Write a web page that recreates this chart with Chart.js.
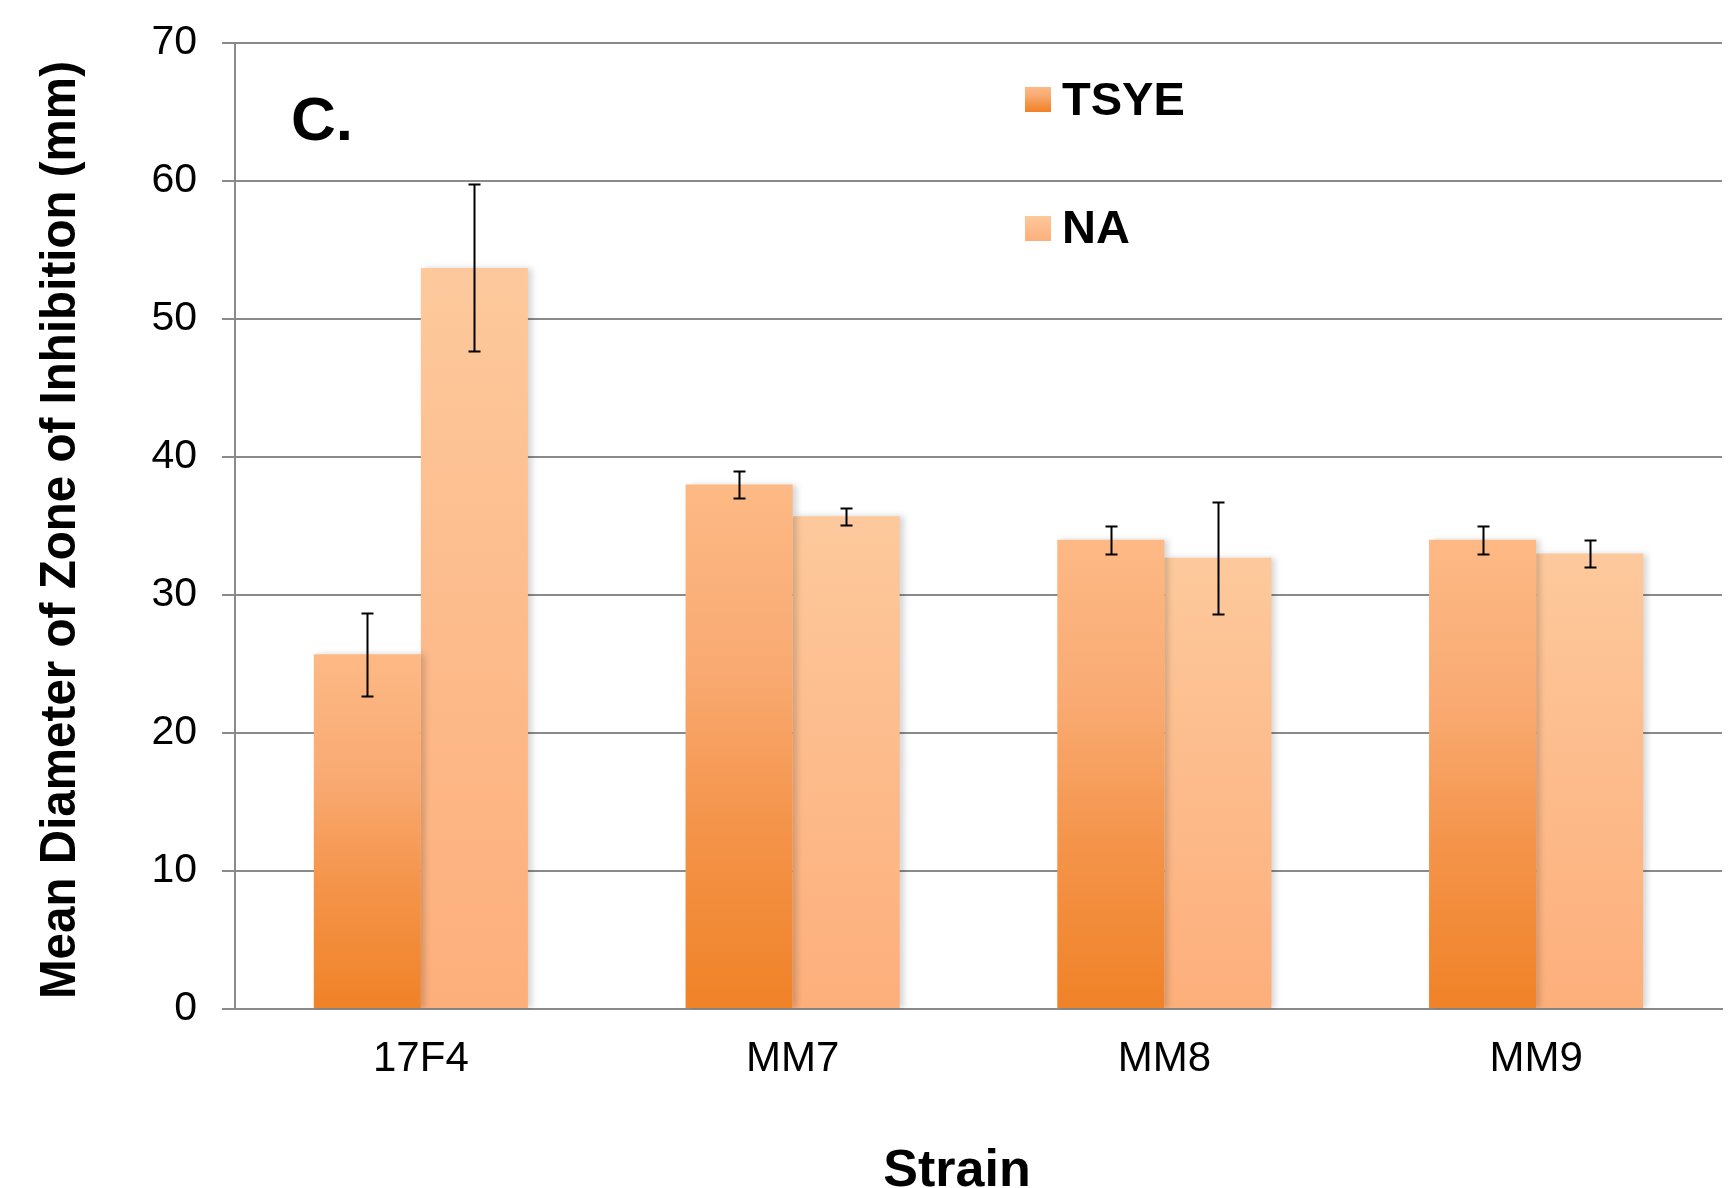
<!DOCTYPE html>
<html>
<head>
<meta charset="utf-8">
<script src="https://cdn.jsdelivr.net/npm/chart.js@4.4.1/dist/chart.umd.min.js"></script>
<style>
  html, body { margin: 0; padding: 0; background: #ffffff; }
  #wrap { width: 1731px; height: 1188px; position: relative; }
</style>
</head>
<body>
<div id="wrap"><canvas id="c" width="1731" height="1188"></canvas></div>
<script>
// ---- data ----
const categories = ['17F4', 'MM7', 'MM8', 'MM9'];
const seriesNames = ['TSYE', 'NA'];
const tsyeValues = [25.7, 38.0, 34.0, 34.0];
const tsyeErrors = [3.0, 1.0, 1.0, 1.0];
const naValues = [53.7, 35.7, 32.7, 33.0];
const naErrors = [6.05, 0.6, 4.05, 1.0];
const yTickMin = 0, yTickMax = 70, yTickStep = 10;
const panelLabel = 'C.';
const xTitle = 'Strain';
const yTitle = 'Mean Diameter of Zone of Inhibition (mm)';

// ---- styles ----
const tsyeStops = [[0, '#F08227'], [0.35, '#F4944A'], [0.65, '#F9AA72'], [1, '#FDB985']];
const naStops = [[0, '#FDAF7B'], [0.5, '#FDBB8B'], [1, '#FDC99C']];
const gridColor = '#8A8A8A';
const fontFamily = "'Liberation Sans', Arial, Helvetica, sans-serif";

function barGradient(stops) {
  return (ctx) => {
    const chart = ctx.chart;
    const { chartArea, scales } = chart;
    if (!chartArea || ctx.type !== 'data' || !scales.y) return stops[stops.length - 1][1];
    const yTop = scales.y.getPixelForValue(ctx.raw);
    const yBot = scales.y.getPixelForValue(0);
    const g = chart.ctx.createLinearGradient(0, yBot, 0, yTop);
    stops.forEach(([o, c]) => g.addColorStop(o, c));
    return g;
  };
}

const shadowPlugin = {
  id: 'barShadow',
  beforeDatasetDraw(chart) {
    const c = chart.ctx;
    c.save();
    c.shadowColor = 'rgba(0,0,0,0.16)';
    c.shadowBlur = 6;
    c.shadowOffsetX = 4;
    c.shadowOffsetY = 0;
  },
  afterDatasetDraw(chart) {
    chart.ctx.restore();
  }
};

const errorBarPlugin = {
  id: 'errorBars',
  afterDatasetsDraw(chart) {
    const c = chart.ctx;
    const y = chart.scales.y;
    c.save();
    c.strokeStyle = '#000000';
    c.lineWidth = 2;
    chart.data.datasets.forEach((ds, di) => {
      const meta = chart.getDatasetMeta(di);
      meta.data.forEach((el, i) => {
        const v = ds.data[i];
        const e = ds.errors[i];
        const yt = Math.round(y.getPixelForValue(v + e)) + 0.5;
        const yb = Math.round(y.getPixelForValue(v - e)) + 0.5;
        const x = Math.round(el.x) + 0.5;
        const hw = 6;
        c.beginPath();
        c.moveTo(x, yt); c.lineTo(x, yb);
        c.moveTo(x - hw, yt); c.lineTo(x + hw, yt);
        c.moveTo(x - hw, yb); c.lineTo(x + hw, yb);
        c.stroke();
      });
    });
    c.restore();
  }
};

const textPlugin = {
  id: 'customText',
  afterDraw(chart) {
    const c = chart.ctx;
    const area = chart.chartArea;
    const items = [
      { label: seriesNames[0], stops: tsyeStops, box: [1025, 87], textY: 115 },
      { label: seriesNames[1], stops: naStops, box: [1025, 216], textY: 243 }
    ];
    c.save();
    items.forEach(it => {
      const [bx, by] = it.box;
      const g = c.createLinearGradient(0, by + 25, 0, by);
      it.stops.forEach(([o, col]) => g.addColorStop(o, col));
      c.fillStyle = g;
      c.fillRect(bx, by, 26, 25);
      c.fillStyle = '#000000';
      c.font = "bold 47px " + fontFamily;
      c.textAlign = 'left';
      c.textBaseline = 'alphabetic';
      c.fillText(it.label, 1062, it.textY);
    });
    c.font = "bold 62px " + fontFamily;
    c.fillText(panelLabel, 291, 140);

    // x axis title
    c.font = "bold 52px " + fontFamily;
    c.textAlign = 'center';
    c.fillText(xTitle, 957, 1186);

    // y axis title (condensed)
    c.font = "bold 50px " + fontFamily;
    const w = c.measureText(yTitle).width;
    const target = 938;
    c.translate(75, (area.top + area.bottom) / 2 + 4);
    c.rotate(-Math.PI / 2);
    c.scale(target / w, 1);
    c.textAlign = 'center';
    c.textBaseline = 'alphabetic';
    c.fillText(yTitle, 0, 0);
    c.restore();
  }
};

new Chart(document.getElementById('c'), {
  type: 'bar',
  data: {
    labels: categories,
    datasets: [
      { label: seriesNames[0], data: tsyeValues, errors: tsyeErrors,
        backgroundColor: barGradient(tsyeStops), borderWidth: 0,
        categoryPercentage: 0.576, barPercentage: 1.0 },
      { label: seriesNames[1], data: naValues, errors: naErrors,
        backgroundColor: barGradient(naStops), borderWidth: 0,
        categoryPercentage: 0.576, barPercentage: 1.0 }
    ]
  },
  options: {
    responsive: false,
    animation: false,
    devicePixelRatio: 1,
    layout: { padding: { left: 0, right: 9, top: 43, bottom: 0 } },
    plugins: {
      legend: { display: false },
      tooltip: { enabled: false }
    },
    scales: {
      x: {
        grid: { display: false, drawTicks: false },
        border: { display: true, color: gridColor, width: 2 },
        ticks: { color: '#000000', font: { family: fontFamily, size: 42 }, padding: 25 },
        title: { display: false, text: xTitle },
        afterFit(scale) { scale.height = 179; }
      },
      y: {
        min: yTickMin, max: yTickMax,
        ticks: { stepSize: yTickStep, color: '#000000', font: { family: fontFamily, size: 41 }, padding: 25 },
        grid: { color: gridColor, lineWidth: 2, tickLength: 13, drawTicks: true },
        border: { display: true, color: gridColor, width: 2 },
        title: { display: false, text: yTitle },
        afterFit(scale) { scale.width = 235; scale.paddingTop = 0; }
      }
    }
  },
  plugins: [shadowPlugin, errorBarPlugin, textPlugin]
});
</script>
</body>
</html>
